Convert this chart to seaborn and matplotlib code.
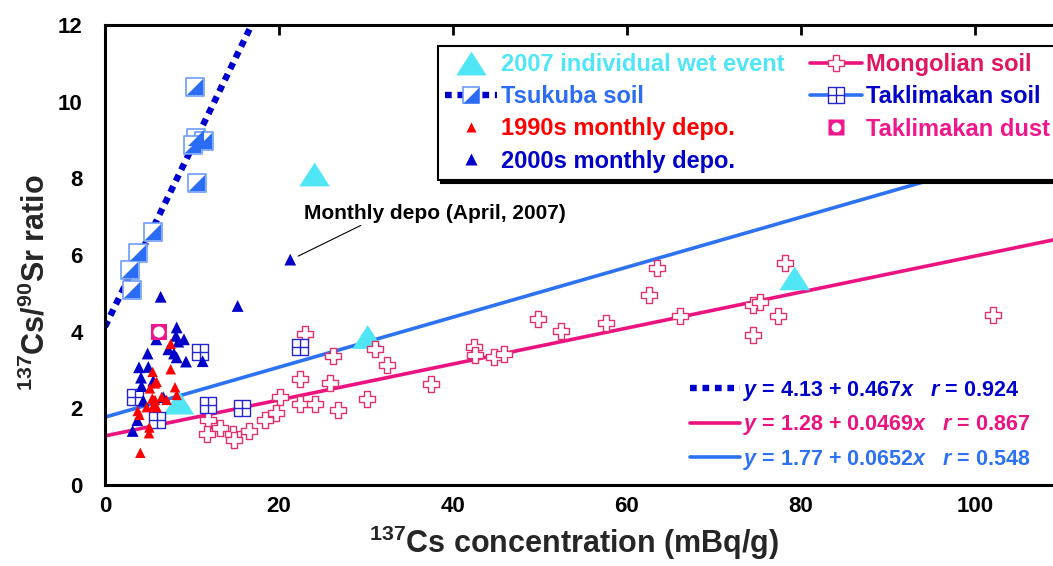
import numpy as np
import matplotlib
matplotlib.use('Agg')
import matplotlib.pyplot as plt
import seaborn as sns
from matplotlib.lines import Line2D
from matplotlib.path import Path

# values
wet_x = [24.1, 30.2, 8.5, 79.3]
wet_y = [8.1, 3.86, 2.15, 5.39]

tsukuba_x = [10.3, 10.5, 11.4, 10.1, 10.6, 5.55, 3.83, 2.87, 3.07]
tsukuba_y = [10.39, 9.05, 8.98, 8.87, 7.89, 6.59, 6.06, 5.61, 5.08]

dep1990_x = [7.55, 7.55, 5.48, 5.94, 5.17, 8.05, 8.24, 5.44, 6.52, 5.56, 4.79,
             5.94, 3.76, 3.95, 5.10, 5.06, 4.06, 5.75, 7.09, 5.75]
dep1990_y = [3.68, 3.02, 2.95, 2.69, 2.52, 2.55, 2.35, 2.26, 2.30, 2.06, 2.03,
             2.03, 1.93, 1.83, 1.50, 1.35, 0.84, 2.65, 2.22, 2.22]

dep2000_x = [15.25, 8.24, 8.16, 9.08, 8.43, 7.28, 4.9, 7.93, 8.24, 9.31, 11.23,
             3.91, 4.98, 4.14, 5.55, 4.21, 6.7, 4.4, 3.72, 3.18, 6.4, 21.3, 5.9]
dep2000_y = [4.67, 4.11, 3.89, 3.80, 3.74, 3.54, 3.43, 3.43, 3.33, 3.22, 3.23,
             3.07, 3.08, 2.80, 2.72, 2.58, 2.29, 2.20, 1.69, 1.41, 4.91, 5.88, 3.8]

mongol_x = [23.0, 26.2, 31.0, 32.4, 22.4, 25.9, 37.5, 30.1, 20.1, 22.4, 24.1,
            26.8, 19.7, 18.4, 11.9, 13.2, 16.5, 11.7, 14.7, 14.8, 49.8, 52.4,
            57.6, 63.5, 62.5, 66.1, 74.5, 75.3, 77.4, 74.5, 78.2, 102.1, 42.4,
            42.5, 44.7, 45.9]
mongol_y = [3.94, 3.36, 3.54, 3.13, 2.76, 2.65, 2.63, 2.24, 2.29, 2.11, 2.11,
            1.96, 1.87, 1.69, 1.69, 1.48, 1.42, 1.33, 1.33, 1.17, 4.32, 4.02,
            4.23, 5.65, 4.95, 4.41, 4.69, 4.78, 4.41, 3.91, 5.78, 4.43, 3.59,
            3.39, 3.33, 3.43]

takla_x = [10.92, 3.45, 5.94, 11.8, 15.7, 22.4]
takla_y = [3.48, 2.29, 1.69, 2.09, 2.0, 3.61]

dust_x = [6.2]
dust_y = [3.99]

# regression lines: Tsukuba, Mongolian, Taklimakan
fit_a = [4.13, 1.28, 1.77]
fit_b = [0.467, 0.0469, 0.0652]
fit_r = [0.924, 0.867, 0.548]

# colours
c_wet = '#50e6f6'
c_tsu = '#2a6cf4'
c_tsu_edge = '#6d9cf8'
c_dot = '#0000cc'
c_red = '#ff0000'
c_navy = '#0000c8'
c_pink = '#ec1380'
c_cross = '#e0306e'
c_blue = '#2c72f2'
c_grid = '#2424d0'
c_dust = '#f0168c'

sns.set_theme(style='white')
plt.rcParams['font.family'] = ['Liberation Sans', 'DejaVu Sans']
plt.rcParams['font.weight'] = 'bold'
plt.rcParams['mathtext.fontset'] = 'custom'
plt.rcParams['mathtext.rm'] = 'Liberation Sans:bold'
plt.rcParams['mathtext.bf'] = 'Liberation Sans:bold'
plt.rcParams['mathtext.it'] = 'Liberation Sans:italic:bold'
plt.rcParams['mathtext.sf'] = 'Liberation Sans:bold'

fig = plt.figure(figsize=(10.53, 5.66), dpi=100)
ax = fig.add_axes([105 / 1053, 81 / 566, 948 / 1053, 460 / 566])

# markers
tri_big = [(-1, -0.78), (1, -0.78), (0, 0.78)]
tri_lr = [(-1, -1), (1, -1), (1, 1)]
grid_sq = Path([(-1, -1), (1, -1), (1, 1), (-1, 1), (-1, -1), (0, -1), (0, 1), (-1, 0), (1, 0)],
               [Path.MOVETO, Path.LINETO, Path.LINETO, Path.LINETO, Path.CLOSEPOLY,
                Path.MOVETO, Path.LINETO, Path.MOVETO, Path.LINETO])
dot_style = (0, (1.05, 0.9))

# regression lines
xs = np.array([0, 109])
line_styles = [dict(color=c_dot, lw=4.6, linestyle=dot_style, dash_capstyle='butt'),
               dict(color=c_pink, lw=2.6),
               dict(color=c_blue, lw=2.6)]
for a, b, st in zip(fit_a, fit_b, line_styles):
    ax.plot(xs, a + b * xs, zorder=2, **st)

# points
sns.scatterplot(x=wet_x, y=wet_y, marker=tri_big, s=22 ** 2, color=c_wet,
                edgecolor='none', linewidth=0, ax=ax, zorder=3)
sns.scatterplot(x=mongol_x, y=mongol_y, marker='P', s=12 ** 2, facecolor='white',
                edgecolor=c_cross, linewidth=1.0, ax=ax, zorder=4)
sns.scatterplot(x=takla_x, y=takla_y, marker=grid_sq, s=12 ** 2, facecolor='white',
                edgecolor=c_grid, linewidth=1.0, ax=ax, zorder=4)
sns.scatterplot(x=tsukuba_x, y=tsukuba_y, marker='s', s=12.5 ** 2, facecolor='white',
                edgecolor=c_tsu_edge, linewidth=1.2, ax=ax, zorder=4)
sns.scatterplot(x=tsukuba_x, y=tsukuba_y, marker=tri_lr, s=11.5 ** 2, color=c_tsu,
                edgecolor='none', linewidth=0, ax=ax, zorder=4)
sns.scatterplot(x=dep2000_x, y=dep2000_y, marker='^', s=8.5 ** 2, color=c_navy,
                edgecolor='none', linewidth=0, ax=ax, zorder=5)
sns.scatterplot(x=dep1990_x, y=dep1990_y, marker='^', s=7.5 ** 2, color=c_red,
                edgecolor='none', linewidth=0, ax=ax, zorder=5)
sns.scatterplot(x=dust_x, y=dust_y, marker='s', s=12 ** 2, color=c_dust,
                edgecolor='none', linewidth=0, ax=ax, zorder=6)
sns.scatterplot(x=dust_x, y=dust_y, marker='o', s=8 ** 2, color='white',
                edgecolor='none', linewidth=0, ax=ax, zorder=6)

# annotation
ax.annotate('', xy=(22.2, 5.97), xytext=(29.4, 6.77),
            arrowprops=dict(arrowstyle='-', color='black', lw=0.8, shrinkA=0, shrinkB=0))
ax.text(22.9, 7.07, 'Monthly depo (April, 2007)', ha='left', va='center',
        fontsize=15, fontweight='bold', color='black')

# axes
ax.set_xlim(0, 109)
ax.set_ylim(0, 12)
ax.set_xticks([0, 20, 40, 60, 80, 100])
ax.set_yticks([0, 2, 4, 6, 8, 10, 12])
ax.tick_params(axis='both', direction='in', length=7, width=2, top=True, right=False,
               labelsize=16, colors='black')
ax.tick_params(axis='y', pad=16)
ax.tick_params(axis='x', pad=8)
for lab in ax.get_xticklabels() + ax.get_yticklabels():
    lab.set_fontweight('bold')
for side in ['left', 'bottom', 'top']:
    ax.spines[side].set_linewidth(2.2)
    ax.spines[side].set_color('black')
ax.spines['right'].set_visible(False)

ax.set_xlabel(r'$^{\mathrm{137}}$Cs concentration (mBq/g)', fontsize=22, fontweight='bold')
ax.xaxis.set_label_coords(0.495, -0.085)
ax.xaxis.label.set_va('top')
ax.set_ylabel(r'$^{\mathrm{137}}$Cs/$^{\mathrm{90}}$Sr ratio', fontsize=22, fontweight='bold')
ax.yaxis.set_label_coords(-0.056, 0.44)

# main legend
h_wet = Line2D([], [], ls='none', marker=tri_big, ms=22, color=c_wet, mec='none')
h_tsu = (Line2D([], [], color=c_dot, lw=4.6, linestyle=dot_style, dash_capstyle='butt'),
         Line2D([], [], ls='none', marker='s', ms=12, mfc='white', mec=c_tsu_edge, mew=1.2),
         Line2D([], [], ls='none', marker=tri_lr, ms=11, mfc=c_tsu, mec='none'))
h_90 = Line2D([], [], ls='none', marker='^', ms=7.5, color=c_red, mec='none')
h_00 = Line2D([], [], ls='none', marker='^', ms=8.5, color=c_navy, mec='none')
h_mon = (Line2D([], [], color=c_pink, lw=2.6),
         Line2D([], [], ls='none', marker='P', ms=12, mfc='white', mec=c_cross, mew=1.0))
h_tak = (Line2D([], [], color=c_blue, lw=2.6),
         Line2D([], [], ls='none', marker=grid_sq, ms=11, mfc='white', mec=c_grid, mew=1.0))
h_dust = (Line2D([], [], ls='none', marker='s', ms=11, color=c_dust, mec='none'),
          Line2D([], [], ls='none', marker='o', ms=7, color='white', mec='none'))

labels = ['2007 individual wet event', 'Tsukuba soil', '1990s monthly depo.',
          '2000s monthly depo.', 'Mongolian soil', 'Taklimakan soil', 'Taklimakan dust']
label_colors = [c_wet, c_tsu, c_red, c_navy, '#e01660', c_navy, c_dust]
leg = ax.legend([h_wet, h_tsu, h_90, h_00, h_mon, h_tak, h_dust], labels, ncol=2,
                loc='upper left', bbox_to_anchor=(438 / 1053, 1 - 46 / 566),
                bbox_transform=fig.transFigure, borderaxespad=0,
                prop={'family': 'Liberation Sans', 'weight': 'bold', 'size': 17},
                handlelength=2.2, handletextpad=0.15, columnspacing=1.1,
                labelspacing=0.39, borderpad=0.3, fancybox=False, framealpha=1,
                edgecolor='black', shadow={'color': 'black', 'alpha': 1.0})
leg.get_frame().set_linewidth(1.5)
leg.set_zorder(10)
for t, c in zip(leg.get_texts(), label_colors):
    t.set_color(c)
ax.add_artist(leg)

# regression legend
fit_handles = [Line2D([], [], **st) for st in line_styles]
fit_labels = [f'$y$ = {a:.2f} + {b}$x$   $r$ = {r:.3f}' for a, b, r in zip(fit_a, fit_b, fit_r)]
leg2 = ax.legend(fit_handles, fit_labels, loc='upper left',
                 bbox_to_anchor=(690 / 1053, 1 - 379 / 566), bbox_transform=fig.transFigure,
                 borderaxespad=0, borderpad=0, frameon=False,
                 prop={'family': 'Liberation Sans', 'weight': 'bold', 'size': 15.5},
                 handlelength=2.3, handletextpad=0.15, labelspacing=0.48)
for t, c in zip(leg2.get_texts(), [c_dot, c_pink, c_blue]):
    t.set_color(c)

fig.savefig('out.png', dpi=100)
